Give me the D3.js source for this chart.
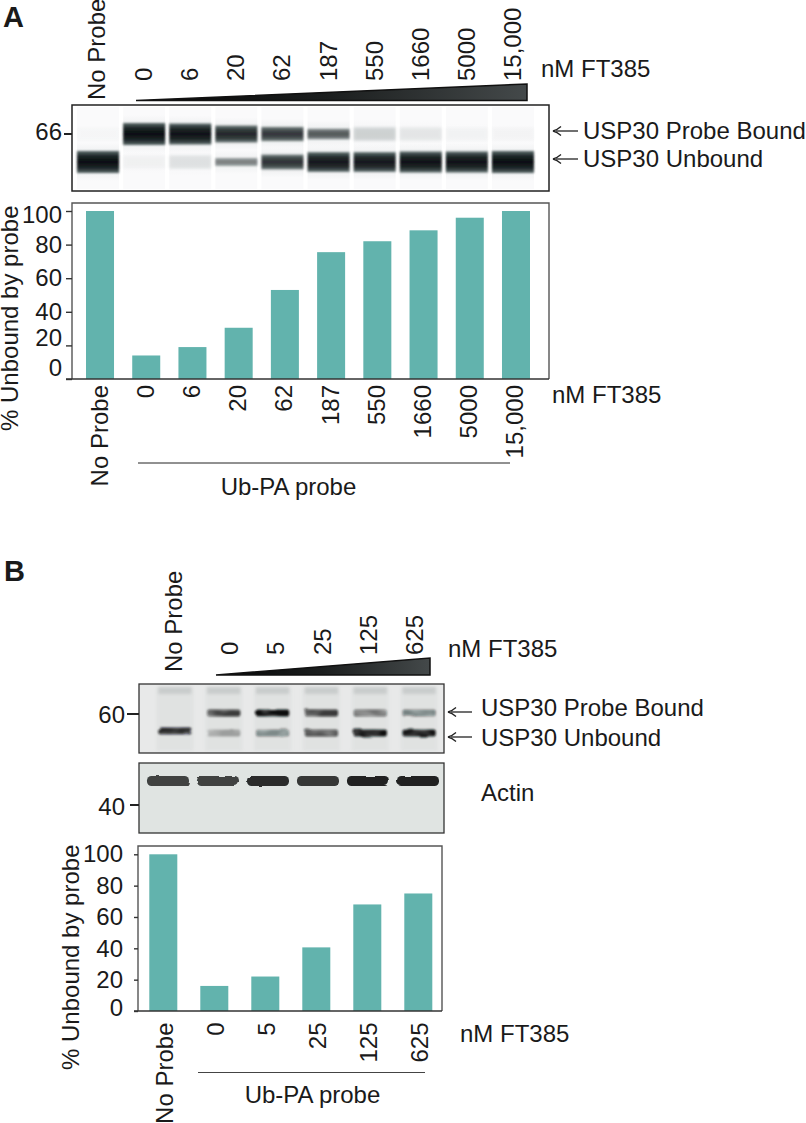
<!DOCTYPE html>
<html><head><meta charset="utf-8">
<script src="https://cdn.jsdelivr.net/npm/d3@7"></script>
<style>
html,body{margin:0;padding:0;background:#fff}
svg{display:block}
text{font-family:"Liberation Sans",Arial,sans-serif;fill:#1a1a1a}
</style></head><body><div id="c"></div>
<script>
// ---- data ----
const dosesA = ["No Probe","0","6","20","62","187","550","1660","5000","15,000"];
const percentA = [100,14,19,30.5,53,75.5,82,88.5,96,100];
const boundBandA = [0.02,1,0.98,0.88,0.8,0.66,0.25,0.12,0.04,0.03];
const unboundBandA = [1,0.05,0.15,0.5,0.82,0.95,0.95,0.98,0.98,1];
const dosesB = ["No Probe","0","5","25","125","625"];
const percentB = [100,16,22,40.6,68,75];
const boundBandB = [0,0.75,1,0.75,0.5,0.4];
const unboundBandB = [0.85,0.2,0.35,0.65,1,0.95];
const actinBandB = [0.8,0.8,0.9,0.85,0.95,0.95];
const yTicks = [0,20,40,60,80,100];
const laneLabelsA = {bound:"USP30 Probe Bound",unbound:"USP30 Unbound"};
const doseUnit = "nM FT385", xAxisTitle = "Ub-PA probe", yAxisTitle = "% Unbound by probe";

const W=806,H=1123,FS=24,TEAL="#62b3ad",INK="#222";
const svg=d3.select("#c").append("svg").attr("width",W).attr("height",H).attr("viewBox",`0 0 ${W} ${H}`);
const defs=svg.append("defs");

const g1=defs.append("linearGradient").attr("id","bandGrad").attr("x1",0).attr("x2",0).attr("y1",0).attr("y2",1);
[[0,"#5c6b6a"],[.22,"#1d2728"],[.5,"#0a0e10"],[.78,"#1d2728"],[1,"#5c6b6a"]].forEach(s=>g1.append("stop").attr("offset",s[0]).attr("stop-color",s[1]));
const g2=defs.append("linearGradient").attr("id","haloGrad").attr("x1",0).attr("x2",0).attr("y1",0).attr("y2",1);
[[0,0],[.5,.14],[1,0]].forEach(s=>g2.append("stop").attr("offset",s[0]).attr("stop-color","#5f7070").attr("stop-opacity",s[1]));
const g3=defs.append("linearGradient").attr("id","wedge").attr("x1",0).attr("x2",1).attr("y1",0).attr("y2",0);
[[0,"#050505"],[.5,"#1c1f1f"],[1,"#44494a"]].forEach(s=>g3.append("stop").attr("offset",s[0]).attr("stop-color",s[1]));
defs.append("filter").attr("id","soft").attr("x","-10%").attr("width","120%").attr("y","-40%").attr("height","180%")
  .append("feGaussianBlur").attr("stdDeviation","0.9 0.8");
defs.append("filter").attr("id","softer").attr("x","-10%").attr("width","120%").attr("y","-40%").attr("height","180%")
  .append("feGaussianBlur").attr("stdDeviation","1.5 1.6");
const wb=defs.append("filter").attr("id","blot").attr("x","-10%").attr("width","120%").attr("y","-60%").attr("height","220%");
wb.append("feTurbulence").attr("type","fractalNoise").attr("baseFrequency","0.05 0.12").attr("numOctaves",2).attr("seed",4).attr("result","n");
wb.append("feDisplacementMap").attr("in","SourceGraphic").attr("in2","n").attr("scale",2.5).attr("result","d");
wb.append("feColorMatrix").attr("in","n").attr("type","matrix").attr("values","0 0 0 0 0 0 0 0 0 0 0 0 0 0 0 1.1 0 0 0 0.35").attr("result","m");
wb.append("feComposite").attr("in","d").attr("in2","m").attr("operator","in").attr("result","c");
wb.append("feGaussianBlur").attr("in","c").attr("stdDeviation",1.0);
const fa=defs.append("filter").attr("id","actin").attr("x","-10%").attr("width","120%").attr("y","-40%").attr("height","180%");
fa.append("feTurbulence").attr("type","fractalNoise").attr("baseFrequency","0.04 0.15").attr("numOctaves",2).attr("seed",9).attr("result","n");
fa.append("feDisplacementMap").attr("in","SourceGraphic").attr("in2","n").attr("scale",2.5);
fa.append("feGaussianBlur").attr("stdDeviation",0.7);

function txt(x,y,s,o={}){
  const t=svg.append("text").attr("x",x).attr("y",y).attr("font-size",o.size||FS).text(s);
  if(o.anchor)t.attr("text-anchor",o.anchor);
  if(o.weight)t.attr("font-weight",o.weight);
  return t;
}
function vtxt(x,y,s){ // rotated label, x = baseline, y = lower end of the text
  return svg.append("text").attr("transform",`translate(${x},${y}) rotate(-90)`).attr("font-size",FS).attr("text-anchor","start").text(s);
}
function frame(x,y,w,h,color,sw){
  svg.append("rect").attr("x",x).attr("y",y).attr("width",w).attr("height",h).attr("fill","none").attr("stroke",color).attr("stroke-width",sw);
}
function arrow(x1,x2,y){
  svg.append("line").attr("x1",x1+3).attr("x2",x2).attr("y1",y).attr("y2",y).attr("stroke",INK).attr("stroke-width",1.3);
  svg.append("path").attr("d",`M${x1+8},${y-4.5} Q${x1+4},${y-1} ${x1},${y} Q${x1+4},${y+1} ${x1+8},${y+4.5}`).attr("fill","none").attr("stroke",INK).attr("stroke-width",1.3);
}
function wedge(x1,x2,y0,yTop){
  svg.append("path").attr("d",d3.line()([[x1,y0],[x2,yTop],[x2,y0]])+"Z").attr("fill","url(#wedge)").attr("stroke","#111").attr("stroke-width",1.5).attr("stroke-linejoin","miter");
}
function barPanel(cfg){
  const {cats,vals,box,x0,x1,y0,y100,w}=cfg;
  const x=d3.scaleBand().domain(cats).range([x0,x1]).paddingInner(1-w).paddingOuter((1-w)/2);
  const y=d3.scaleLinear().domain([0,100]).range([y0,y100]);
  svg.append("g").selectAll("rect").data(cats).join("rect")
    .attr("x",d=>x(d)).attr("width",x.bandwidth())
    .attr("y",(d,i)=>y(vals[i])).attr("height",(d,i)=>y(0)-y(vals[i])).attr("fill",TEAL);
  svg.append("path").attr("d",`M${box[0]},${y0} V${box[1]} H${box[2]} V${y0}`).attr("fill","none").attr("stroke","#555").attr("stroke-width",1.4);
  const ya=svg.append("g").attr("transform",`translate(${box[0]},0)`).call(d3.axisLeft(y).tickValues(yTicks).tickSize(cfg.tick).tickPadding(cfg.pad).tickFormat(d3.format("d")));
  ya.select(".domain").remove();
  ya.selectAll("line").attr("stroke","#333").attr("stroke-width",1.4);
  ya.selectAll("text").attr("font-size",FS).attr("font-family",'"Liberation Sans"').attr("fill","#1a1a1a")
    .attr("transform",d=>`translate(0,${cfg.labelShift[d]||0})`);
  svg.append("line").attr("x1",box[0]-cfg.tick).attr("x2",box[2]).attr("y1",y0).attr("y2",y0).attr("stroke","#333").attr("stroke-width",1.5);
  const xa=svg.append("g").attr("transform",`translate(0,${y0})`).call(d3.axisBottom(x).tickSize(0).tickFormat(d=>d));
  xa.select(".domain").remove();
  xa.selectAll("text").attr("font-size",FS).attr("font-family",'"Liberation Sans"').attr("fill","#1a1a1a")
    .attr("text-anchor","end").attr("transform","rotate(-90)").attr("x",-cfg.gap).attr("y",cfg.base).attr("dy",0);
  return {x,y};
}
function gelBand(g,x,w,yc,i,cfgH){
  if(i<=0)return;
  const h=cfgH(i);
  g.append("rect").attr("x",x).attr("width",w).attr("y",yc-h/2-8).attr("height",h+16).attr("fill","url(#haloGrad)").attr("opacity",Math.min(1,i*1.3));
  g.append("rect").attr("x",x).attr("width",w).attr("y",yc-h/2).attr("height",h).attr("fill",i<.4?"#2f3f3e":"url(#bandGrad)")
    .attr("opacity",i<.4?i*.75:i).attr("filter",i<.4?"url(#softer)":"url(#soft)");
}

// ---------- Panel A ----------
txt(3,27,"A",{size:29,weight:700});
vtxt(105,100,"No Probe");
const laneA=d3.scaleBand().domain(dosesA).range([75,536]).paddingInner(.09).paddingOuter(.045);
dosesA.slice(1).forEach(d=>vtxt(laneA(d)+laneA.bandwidth()/2+8,81,d));
txt(541,77,doseUnit);
wedge(136,527,100.5,84);
const gelA=svg.append("g");
gelA.append("rect").attr("x",72).attr("y",105).attr("width",477).attr("height",86).attr("fill","#fff");
gelA.selectAll("rect.l").data(dosesA).join("rect").attr("class","l").attr("x",d=>laneA(d)).attr("width",laneA.bandwidth()).attr("y",107).attr("height",82).attr("fill","#fafafb");
const hA=i=>i<.4?13:6+16*i*i*i;
dosesA.forEach((d,k)=>{
  gelBand(gelA,laneA(d),laneA.bandwidth(),134,boundBandA[k],hA);
  gelBand(gelA,laneA(d),laneA.bandwidth(),162,unboundBandA[k],hA);
});
frame(72,105,477,86,"#222",1.5);
svg.append("line").attr("x1",64).attr("x2",72).attr("y1",134).attr("y2",134).attr("stroke",INK).attr("stroke-width",2);
txt(62,140,"66",{anchor:"end"});
arrow(553,578,131); txt(583,139,laneLabelsA.bound);
arrow(553,578,159); txt(583,167,laneLabelsA.unbound);
barPanel({cats:dosesA,vals:percentA,box:[72,203,549],x0:76.9,x1:539.1,y0:379,y100:211,w:.606,gap:6,base:7.5,tick:6,pad:4,labelShift:{100:4,20:-8,0:-11}});
vtxt(18,431,yAxisTitle);
txt(552,403,doseUnit);
svg.append("line").attr("x1",138).attr("x2",510).attr("y1",463).attr("y2",463).attr("stroke","#222").attr("stroke-width",1);
txt(288.5,495,xAxisTitle,{anchor:"middle"});

// ---------- Panel B ----------
txt(4,581,"B",{size:29,weight:700});
vtxt(182,672,"No Probe");
const laneB=d3.scaleBand().domain(dosesB).range([150.5,443.5]).paddingInner(.32).paddingOuter(.16);
const topB=d3.scalePoint().domain(dosesB.slice(1)).range([238,423]);
dosesB.slice(1).forEach(d=>vtxt(topB(d),655,d));
txt(448,657,doseUnit);
wedge(216,430,675,658);
svg.append("rect").attr("x",139).attr("y",684).attr("width",305).attr("height",69).attr("fill","#e8e9e9");
const b1=svg.append("g");
dosesB.forEach((d,k)=>{
  const x=laneB(d),w=laneB.bandwidth();
  b1.append("rect").attr("x",x-2).attr("width",w+4).attr("y",687).attr("height",64).attr("fill","#d9dcdb").attr("opacity",.5).attr("filter","url(#softer)");
  b1.append("rect").attr("x",x).attr("width",w).attr("y",687).attr("height",7).attr("fill","#b4b8b8").attr("opacity",.5).attr("filter","url(#softer)");
});
const b1b=svg.append("g").attr("filter","url(#blot)");
dosesB.forEach((d,k)=>{
  const x=laneB(d),w=laneB.bandwidth();
  const band=(yc,i)=>{ if(i>0){
    b1b.append("rect").attr("x",x).attr("width",w).attr("y",yc-3.5).attr("height",7).attr("rx",2).attr("fill","#0c0f10").attr("opacity",Math.min(1,.12+i*.9));
  }};
  band(713,boundBandB[k]);
  band(k===0?731:733,unboundBandB[k]);
});
frame(139,684,305,69,"#333",1.3);
svg.append("rect").attr("x",139).attr("y",763).attr("width",305).attr("height",70).attr("fill","#e0e4e2");
const b2=svg.append("g").attr("filter","url(#actin)");
const actinX=d3.scaleBand().domain(dosesB).range([143,443]).paddingInner(.16).paddingOuter(.08);
dosesB.forEach((d,k)=>{
  b2.append("rect").attr("x",actinX(d)).attr("width",actinX.bandwidth()).attr("y",776).attr("height",10).attr("rx",4.5).attr("fill","#151818").attr("opacity",actinBandB[k]);
});
frame(139,763,305,70,"#333",1.3);
svg.append("line").attr("x1",127).attr("x2",139).attr("y1",714).attr("y2",714).attr("stroke",INK).attr("stroke-width",2);
svg.append("line").attr("x1",130).attr("x2",139).attr("y1",805).attr("y2",805).attr("stroke",INK).attr("stroke-width",2);
txt(125,723,"60",{anchor:"end"});
txt(125,815,"40",{anchor:"end"});
arrow(448,472,712); txt(481,716,laneLabelsA.bound);
arrow(448,472,737); txt(481,746,laneLabelsA.unbound);
txt(481,801,"Actin");
barPanel({cats:dosesB,vals:percentB,box:[138,846,442],x0:137.8,x1:443.8,y0:1011,y100:854.3,w:.549,gap:11.5,base:9.5,tick:4,pad:11,labelShift:{0:-3}});
vtxt(79,1070,yAxisTitle);
txt(460,1042,doseUnit);
svg.append("line").attr("x1",198).attr("x2",425).attr("y1",1072.5).attr("y2",1072.5).attr("stroke","#444").attr("stroke-width",1.2);
txt(312.5,1103,xAxisTitle,{anchor:"middle"});
</script></body></html>
